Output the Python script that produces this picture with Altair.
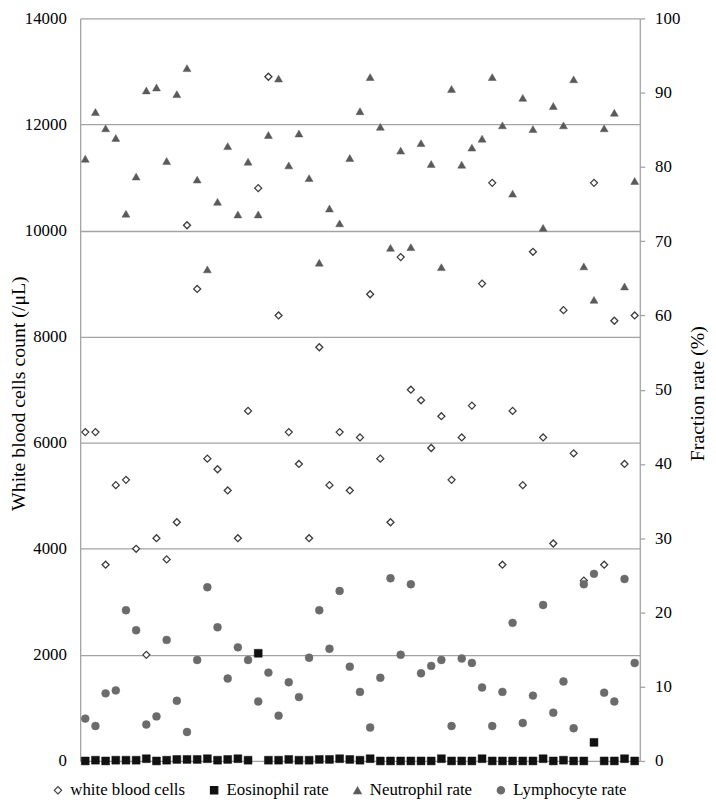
import altair as alt
import pandas as pd

patient = list(range(1, 56))

wbc = [6200, 6200, 3700, 5200, 5300, 4000, 2000, 4200, 3800, 4500,
       10100, 8900, 5700, 5500, 5100, 4200, 6600, 10800, 12900, 8400,
       6200, 5600, 4200, 7800, 5200, 6200, 5100, 6100, 8800, 5700,
       4500, 9500, 7000, 6800, 5900, 6500, 5300, 6100, 6700, 9000,
       10900, 3700, 6600, 5200, 9600, 6100, 4100, 8500, 5800, 3400,
       10900, 3700, 8300, 5600, 8400]

eosinophil = [0, 0.1, 0, 0.1, 0.1, 0.1, 0.3, 0, 0.1, 0.2,
              0.2, 0.2, 0.3, 0.1, 0.2, 0.3, 0.1, 14.5, 0.1, 0.1,
              0.2, 0.1, 0.1, 0.2, 0.2, 0.3, 0.2, 0.1, 0.3, 0,
              0, 0, 0, 0, 0, 0.3, 0, 0, 0, 0.3,
              0, 0, 0, 0, 0, 0.3, 0, 0.1, 0, 0,
              2.5, 0, 0, 0.3, 0]

neutrophil = [81.1, 87.4, 85.2, 83.9, 73.7, 78.7, 90.3, 90.7, 80.8, 89.8,
              93.3, 78.3, 66.2, 75.3, 82.8, 73.6, 80.7, 73.6, 84.3, 91.9,
              80.2, 84.5, 78.5, 67.1, 74.4, 72.4, 81.2, 87.5, 92.1, 85.4,
              69.1, 82.2, 69.2, 83.2, 80.4, 66.5, 90.5, 80.3, 82.6, 83.8,
              92.1, 85.6, 76.4, 89.3, 85.1, 71.8, 88.2, 85.6, 91.8, 66.6,
              62.1, 85.2, 87.3, 63.9, 78.1]

lymphocyte = [5.7, 4.7, 9.1, 9.5, 20.3, 17.6, 4.9, 6.0, 16.3, 8.1,
              3.9, 13.6, 23.4, 18.0, 11.1, 15.3, 13.6, 8.0, 11.9, 6.1,
              10.6, 8.6, 13.9, 20.3, 15.1, 22.9, 12.7, 9.3, 4.5, 11.2,
              24.6, 14.3, 23.8, 11.8, 12.8, 13.6, 4.7, 13.8, 13.2, 9.9,
              4.7, 9.3, 18.6, 5.1, 8.8, 21.0, 6.5, 10.7, 4.4, 23.8,
              25.2, 9.2, 8.0, 24.5, 13.2]

series_names = ["white blood cells", "Eosinophil rate", "Neutrophil rate", "Lymphocyte rate"]
wbc_ticks = [0, 2000, 4000, 6000, 8000, 10000, 12000, 14000]
rate_ticks = [0, 10, 20, 30, 40, 50, 60, 70, 80, 90, 100]

wbc_df = pd.DataFrame({"patient": patient, "value": wbc, "series": series_names[0]})
rate_df = pd.concat([
    pd.DataFrame({"patient": patient, "value": eosinophil, "series": series_names[1]}),
    pd.DataFrame({"patient": patient, "value": neutrophil, "series": series_names[2]}),
    pd.DataFrame({"patient": patient, "value": lymphocyte, "series": series_names[3]}),
], ignore_index=True)

FONT = "'Liberation Serif', 'Times New Roman', Times, 'DejaVu Serif', serif"
GRID = "#a3a3a3"
LABEL_SIZE = 17
TITLE_SIZE = 20

shape_scale = alt.Scale(domain=series_names, range=["diamond", "square", "triangle-up", "circle"])
fill_scale = alt.Scale(domain=series_names, range=["#ffffff", "#111111", "#5a5a5a", "#6b6b6b"])
stroke_scale = alt.Scale(domain=series_names, range=["#3c3c3c", "#111111", "#5a5a5a", "#6b6b6b"])

legend = alt.Legend(
    title=None, orient="none", direction="horizontal", columns=4,
    legendX=-31, legendY=772,
    labelFont=FONT, labelFontSize=17, labelColor="#000000",
    symbolSize=55, symbolStrokeWidth=1.2, columnPadding=20, labelOffset=4,
)

x_enc = alt.X("patient:Q", scale=alt.Scale(domain=[0.5, 55.5], nice=False, zero=False), axis=None)

left = alt.Chart(wbc_df).mark_point(filled=True, size=50, strokeWidth=1.3, opacity=1).encode(
    x=x_enc,
    y=alt.Y("value:Q",
            scale=alt.Scale(domain=[0, 14000], nice=False),
            axis=alt.Axis(title="White blood cells count (/μL)", values=wbc_ticks, format="d",
                          grid=True, gridColor=GRID, gridWidth=1.3,
                          domain=True, domainColor=GRID, domainWidth=1.3,
                          ticks=False, tickSize=0, labelPadding=14,
                          labelFont=FONT, labelFontSize=LABEL_SIZE, labelColor="#000000",
                          titleFont=FONT, titleFontSize=TITLE_SIZE, titleFontWeight="normal",
                          titleColor="#000000",
                          titleAngle=270, titleX=-62, titleY=379,
                          titleAlign="center", titleBaseline="middle")),
    shape=alt.Shape("series:N", scale=shape_scale, legend=legend),
    fill=alt.Fill("series:N", scale=fill_scale, legend=legend),
    stroke=alt.Stroke("series:N", scale=stroke_scale, legend=legend),
)

right = alt.Chart(rate_df).mark_point(filled=True, size=64, strokeWidth=0.5, opacity=1).encode(
    x=x_enc,
    y=alt.Y("value:Q",
            scale=alt.Scale(domain=[0, 100], nice=False),
            axis=alt.Axis(title="Fraction rate (%)", orient="right", values=rate_ticks, format="d",
                          grid=False, domain=True, domainColor=GRID, domainWidth=1.3,
                          ticks=True, tickSize=5, tickColor=GRID, tickWidth=1.3,
                          labelPadding=10,
                          labelFont=FONT, labelFontSize=LABEL_SIZE, labelColor="#000000",
                          titleFont=FONT, titleFontSize=TITLE_SIZE, titleFontWeight="normal",
                          titleColor="#000000",
                          titleAngle=270, titleX=58, titleY=379,
                          titleAlign="center", titleBaseline="middle")),
    shape=alt.Shape("series:N", scale=shape_scale, legend=legend),
    fill=alt.Fill("series:N", scale=fill_scale, legend=legend),
    stroke=alt.Stroke("series:N", scale=stroke_scale, legend=legend),
)

chart = alt.layer(left, right).resolve_scale(y="independent").properties(
    width=566, height=751,
    autosize=alt.AutoSizeParams(type="none"),
    padding={"left": 73, "top": 6, "right": 69, "bottom": 39},
    background="white",
).configure_view(stroke=None).configure_axis(
    labelFont=FONT, labelFontSize=LABEL_SIZE, labelColor="#000000",
    titleFont=FONT, titleFontSize=TITLE_SIZE, titleFontWeight="normal", titleColor="#000000",
).configure_legend(labelFont=FONT)

chart.save("out.html", embed_options={"renderer": "svg", "actions": False})
